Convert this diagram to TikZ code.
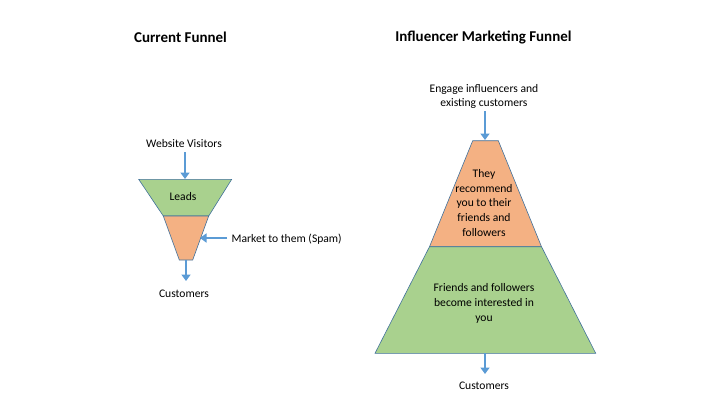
\documentclass[tikz,border=0pt]{standalone}
\usepackage{fontspec}
\setmainfont{Carlito}
\usetikzlibrary{arrows.meta}
\definecolor{fgreen}{HTML}{A9D18E}
\definecolor{forange}{HTML}{F4B183}
\definecolor{fedge}{HTML}{41719C}
\definecolor{farrow}{HTML}{5B9BD5}
\begin{document}
\begin{tikzpicture}[x=1pt,y=-1pt,
  lbl/.style={font=\fontsize{11.6}{14.6}\selectfont, inner sep=0pt, align=center},
  ttl/.style={font=\fontsize{15}{18}\selectfont\bfseries, inner sep=0pt},
  flow/.style={draw=farrow, line width=2.6pt, -{Triangle[width=9pt,length=6.5pt]}},
  part/.style={draw=fedge, line width=0.6pt}]
\useasboundingbox (0,0) rectangle (720,405);
% titles
\node[ttl] (t1) at (180.5,37) {Current Funnel};
\node[ttl] (t2) at (483.5,37) {Influencer Marketing Funnel};
% left funnel
\filldraw[part, fill=fgreen] (138.7,179.3) -- (231.7,179.3) -- (208.7,216) -- (163.3,216) -- cycle;
\filldraw[part, fill=forange] (163.3,216) -- (208.7,216) -- (192.7,260) -- (179.3,260) -- cycle;
\node[lbl] (leads) at (183,197) {Leads};
\node[lbl] (wv) at (184,143.5) {Website Visitors};
\coordinate (wvtop) at (185,152);
\coordinate (wvend) at (185,179);
\node[lbl, anchor=west] (mkt) at (231.5,239.5) {Market to them (Spam)};
\coordinate (mkstart) at (227,238);
\coordinate (mkend) at (200,238);
\coordinate (lbot) at (186,260);
\coordinate (lbotend) at (186,281);
\node[lbl] (cust1) at (184,294) {Customers};
\draw[flow] (wvtop) -- (wvend);
\draw[flow] (mkstart) -- (mkend);
\draw[flow] (lbot) -- (lbotend);
% right funnel
\filldraw[part, fill=forange] (472.7,140.7) -- (498.3,140.7) -- (541.5,246.7) -- (429.5,246.7) -- cycle;
\filldraw[part, fill=fgreen] (429.5,246.7) -- (541.5,246.7) -- (595.7,353.3) -- (375,353.3) -- cycle;
\node[lbl] (rec) at (484,203) {They\\recommend\\you to their\\friends and\\followers};
\node[lbl] (ff) at (484,303.5) {Friends and followers\\become interested in\\you};
\node[lbl] (eng) at (484,96.5) {Engage influencers and\\existing customers};
\coordinate (etop) at (485,111);
\coordinate (eend) at (485,140);
\coordinate (rbot) at (485,353.3);
\coordinate (rbotend) at (485,374);
\node[lbl] (cust2) at (484,385.5) {Customers};
\draw[flow] (etop) -- (eend);
\draw[flow] (rbot) -- (rbotend);
\end{tikzpicture}
\end{document}
